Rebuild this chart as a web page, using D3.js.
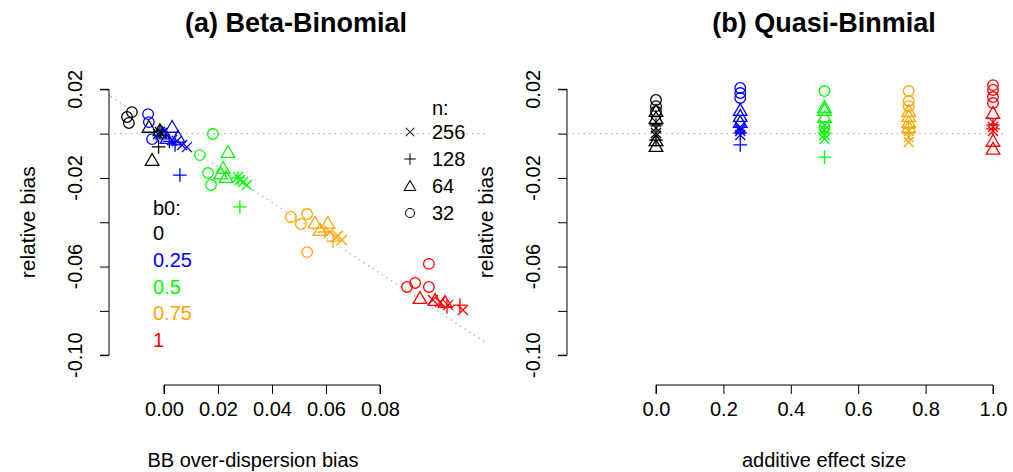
<!DOCTYPE html>
<html>
<head>
<meta charset="utf-8">
<script src="https://cdn.jsdelivr.net/npm/d3@7"></script>
<style>
  html, body { margin: 0; padding: 0; background: #fff; }
  svg { display: block; font-family: "Liberation Sans", Arial, sans-serif; }
</style>
</head>
<body>
<svg id="chart" width="1013" height="472"></svg>
<script>
// intercept levels and their colours
const b0Levels = [0, 0.25, 0.5, 0.75, 1];
const b0Labels = ["0", "0.25", "0.5", "0.75", "1"];
const b0Colors = ["#000000", "#0000FF", "#00FF00", "#FFA500", "#FF0000"];
// sample sizes and their plotting symbols
const nLevels = [256, 128, 64, 32];
const nShapes = ["x", "plus", "triangle", "circle"];

// (a) Beta-Binomial: over-dispersion bias vs relative bias
const bbGroup = [
  0,0,0, 0,0,0, 0,0, 0,0,0,0,
  1,1,1, 1,1,1,1, 1,1,1, 1,1,1,1,
  2,2,2,2, 2,2,2,2, 2,2, 2,2,2,2,
  3,3,3,3, 3,3,3, 3,3, 3,3,3,3,
  4,4,4,4, 4,4,4, 4,4, 4,4,4,4
];
const bbN = [
  32,32,32, 64,64,64, 128,128, 256,256,256,256,
  32,32,32, 64,64,64,64, 128,128,128, 256,256,256,256,
  32,32,32,32, 64,64,64,64, 128,128, 256,256,256,256,
  32,32,32,32, 64,64,64, 128,128, 256,256,256,256,
  32,32,32,32, 64,64,64, 128,128, 256,256,256,256
];
const bbBias = [
  -0.0137,-0.0119,-0.0130, -0.0056,-0.0044,-0.0015, -0.0020,-0.0015, -0.0015,-0.0007,-0.0022,-0.0010,
  -0.0059,-0.0056,-0.0044, 0.0030,0.0011,0.0052,-0.0005, 0.0059,0.0041,0.0020, 0.0048,0.0067,0.0085,0.0030,
  0.0181,0.0133,0.0163,0.0174, 0.0237,0.0219,0.0230,0.0210, 0.0281,0.0274, 0.0274,0.0293,0.0307,0.0281,
  0.0470,0.0530,0.0507,0.0530, 0.0559,0.0607,0.0578, 0.0626,0.0596, 0.0615,0.0637,0.0659,0.0644,
  0.0981,0.0930,0.0900,0.0981, 0.0948,0.1041,0.1004, 0.1048,0.1096, 0.0996,0.1052,0.1107,0.1022
];
const bbRelBias = [
  0.0075,0.0097,0.0048, 0.0030,-0.0119,0.0015, -0.0060,0.0010, 0.0007,0.0003,-0.0002,0.0000,
  0.0088,0.0052,-0.0025, 0.0030,-0.0020,-0.0015,0.0000, -0.0187,-0.0051,-0.0035, -0.0033,-0.0051,-0.0061,-0.0029,
  -0.0002,-0.0097,-0.0178,-0.0232, -0.0083,-0.0155,-0.0196,-0.0180, -0.0331,-0.0200, -0.0196,-0.0218,-0.0232,-0.0209,
  -0.0376,-0.0363,-0.0408,-0.0535, -0.0403,-0.0403,-0.0435, -0.0485,-0.0444, -0.0444,-0.0467,-0.0480,-0.0462,
  -0.0588,-0.0674,-0.0692,-0.0692, -0.0742,-0.0760,-0.0751, -0.0782,-0.0774, -0.0751,-0.0774,-0.0796,-0.0760
];
// reference line: relative bias = slope * BB bias + intercept
const refSlope = -0.8;
const refIntercept = 0.001;

// (b) Quasi-Binomial: additive effect size vs relative bias
const qbGroup = [
  0,0,0, 0,0,0,0, 0,0, 0,0,0,0,
  1,1,1, 1,1,1, 1,1, 1,1,1,1,
  2,2, 2,2,2, 2,2, 2,2,2,2,
  3,3,3, 3,3,3,3, 3,3, 3,3,3,
  4,4,4,4, 4,4,4, 4,4, 4,4,4
];
const qbN = [
  32,32,32, 64,64,64,64, 128,128, 256,256,256,256,
  32,32,32, 64,64,64, 128,128, 256,256,256,256,
  32,32, 64,64,64, 128,128, 256,256,256,256,
  32,32,32, 64,64,64,64, 128,128, 256,256,256,
  32,32,32,32, 64,64,64, 128,128, 256,256,256
];
const qbRelBias = [
  0.0152,0.0124,0.0100, 0.0102,0.0070,-0.0056,-0.0030, 0.0039,-0.0029, 0.0052,0.0025,0.0003,-0.0010,
  0.0206,0.0183,0.0161, 0.0106,0.0079,0.0052, 0.0003,-0.0051, 0.0030,0.0012,-0.0006,0.0021,
  0.0192,0.0030, 0.0120,0.0106,0.0075, 0.0003,-0.0106, 0.0039,0.0016,-0.0006,-0.0024,
  0.0192,0.0147,0.0124, 0.0102,0.0079,0.0052,0.0030, 0.0003,0.0025, 0.0012,-0.0016,-0.0038,
  0.0219,0.0197,0.0165,0.0138, 0.0093,-0.0033,-0.0069, 0.0039,0.0021, 0.0052,0.0030,0.0012
];

// axis ticks
const yTicks = [-0.10, -0.08, -0.06, -0.04, -0.02, 0, 0.02];
const yTickLabels = {"-0.1": "-0.10", "-0.06": "-0.06", "-0.02": "-0.02", "0.02": "0.02"};
const xTicksA = [0, 0.02, 0.04, 0.06, 0.08];
const xTicksB = [0, 0.2, 0.4, 0.6, 0.8, 1.0];

const svg = d3.select("#chart");
const axisColor = "#000";
const refColor = "#b4b4b4";
const fs = 20;

const y = d3.scaleLinear().domain([-0.10, 0.02]).range([355.2, 89.3]);
const xA = d3.scaleLinear().domain([0, 0.08]).range([164, 380]);
const xB = d3.scaleLinear().domain([0, 1]).range([656, 993]);

const panels = [
  {left: 109, right: 485, top: 70, bottom: 385, title: "(a) Beta-Binomial", titleX: 296,
   xlab: "BB over-dispersion bias", xlabX: 253, ylabX: 35, tickLabX: 82, x: xA, xTicks: xTicksA,
   xFmt: d3.format(".2f")},
  {left: 567, right: 1007, top: 70, bottom: 385, title: "(b) Quasi-Binmial", titleX: 824,
   xlab: "additive effect size", xlabX: 824, ylabX: 493, tickLabX: 540, x: xB, xTicks: xTicksB,
   xFmt: d3.format(".1f")}
];

function symbolPath(shape) {
  const p = d3.path();
  if (shape === "circle") {
    p.moveTo(5.3, 0); p.arc(0, 0, 5.3, 0, 2 * Math.PI);
  } else if (shape === "triangle") {
    const s = 6.8;
    p.moveTo(0, -s * 0.95); p.lineTo(s, s * 0.78); p.lineTo(-s, s * 0.78); p.closePath();
  } else if (shape === "plus") {
    const s = 6.8;
    p.moveTo(-s, 0); p.lineTo(s, 0); p.moveTo(0, -s); p.lineTo(0, s);
  } else {
    const s = 5;
    p.moveTo(-s, -s); p.lineTo(s, s); p.moveTo(-s, s); p.lineTo(s, -s);
  }
  return p.toString();
}

panels.forEach((pn, i) => {
  const g = svg.append("g");
  const clipId = "clip" + i;
  svg.append("clipPath").attr("id", clipId).append("rect")
    .attr("x", pn.left).attr("y", pn.top).attr("width", pn.right - pn.left).attr("height", pn.bottom - pn.top);

  // title
  g.append("text").attr("x", pn.titleX).attr("y", 32).attr("text-anchor", "middle")
    .attr("font-size", 27).attr("font-weight", "bold").text(pn.title);

  // y axis
  const yAxis = d3.axisLeft(y).tickValues(yTicks).tickSize(9).tickFormat("");
  const ya = g.append("g").attr("transform", `translate(${pn.left},0)`).call(yAxis);
  ya.selectAll("path,line").attr("stroke", axisColor).attr("stroke-width", 1);
  ya.select(".domain").attr("d", `M-9,${y(0.02)}H0V${y(-0.10)}H-9`);
  yTicks.forEach(v => {
    const key = String(+v.toFixed(2));
    if (yTickLabels[key]) {
      g.append("text").attr("transform", `translate(${pn.tickLabX},${y(v)}) rotate(-90)`)
        .attr("text-anchor", "middle").attr("font-size", fs).text(yTickLabels[key]);
    }
  });
  g.append("text").attr("transform", `translate(${pn.ylabX},${y(-0.04)}) rotate(-90)`)
    .attr("text-anchor", "middle").attr("font-size", fs + 1).text("relative bias");

  // x axis
  const xAxis = d3.axisBottom(pn.x).tickValues(pn.xTicks).tickSize(9).tickFormat(pn.xFmt).tickPadding(8);
  const xa = g.append("g").attr("transform", `translate(0,${pn.bottom})`).call(xAxis);
  xa.selectAll("path,line").attr("stroke", axisColor).attr("stroke-width", 1);
  const x0 = pn.x(pn.xTicks[0]), x1 = pn.x(pn.xTicks[pn.xTicks.length - 1]);
  xa.select(".domain").attr("d", `M${x0},9V0H${x1}V9`);
  xa.selectAll("text").attr("font-size", fs).attr("fill", "#000")
    .attr("font-family", "Liberation Sans, Arial, sans-serif");
  g.append("text").attr("x", pn.xlabX).attr("y", 467).attr("text-anchor", "middle")
    .attr("font-size", fs).text(pn.xlab);

  // zero reference line
  const ref = g.append("g").attr("clip-path", `url(#${clipId})`);
  ref.append("line").attr("x1", pn.left).attr("x2", pn.right).attr("y1", y(0)).attr("y2", y(0))
    .attr("stroke", refColor).attr("stroke-width", 1.3).attr("stroke-dasharray", "1.5,4");
  if (i === 0) {
    const xs = [-0.03, 0.13];
    ref.append("line")
      .attr("x1", xA(xs[0])).attr("y1", y(refSlope * xs[0] + refIntercept))
      .attr("x2", xA(xs[1])).attr("y2", y(refSlope * xs[1] + refIntercept))
      .attr("stroke", refColor).attr("stroke-width", 1.3).attr("stroke-dasharray", "1.5,4");
  }
});

function drawPoints(xs, ys, groups, ns) {
  const pts = xs.map((xv, k) => ({x: xv, y: ys[k], g: groups[k], n: ns[k]}));
  svg.append("g").selectAll("path").data(pts).join("path")
    .attr("transform", d => `translate(${d.x},${d.y})`)
    .attr("d", d => symbolPath(nShapes[nLevels.indexOf(d.n)]))
    .attr("fill", "none")
    .attr("stroke", d => b0Colors[d.g])
    .attr("stroke-width", 1.3);
}

drawPoints(bbBias.map(v => xA(v)), bbRelBias.map(v => y(v)), bbGroup, bbN);
drawPoints(qbGroup.map(gi => xB(b0Levels[gi])), qbRelBias.map(v => y(v)), qbGroup, qbN);

// legend: sample size
const legN = svg.append("g");
legN.append("text").attr("x", 432).attr("y", 115).attr("font-size", fs).text("n:");
nLevels.forEach((n, k) => {
  const yy = 132 + k * 27;
  legN.append("path")
    .attr("transform", `translate(410,${yy}) scale(0.85)`)
    .attr("d", symbolPath(nShapes[k])).attr("fill", "none").attr("stroke", "#000").attr("stroke-width", 1.2);
  legN.append("text").attr("x", 432).attr("y", yy + 7).attr("font-size", fs).text(n);
});

// legend: intercept
const legB = svg.append("g");
legB.append("text").attr("x", 153).attr("y", 215).attr("font-size", fs).text("b0:");
b0Labels.forEach((lab, k) => {
  legB.append("text").attr("x", 153).attr("y", 240 + k * 26.8).attr("font-size", fs)
    .attr("fill", b0Colors[k]).text(lab);
});
</script>
</body>
</html>
